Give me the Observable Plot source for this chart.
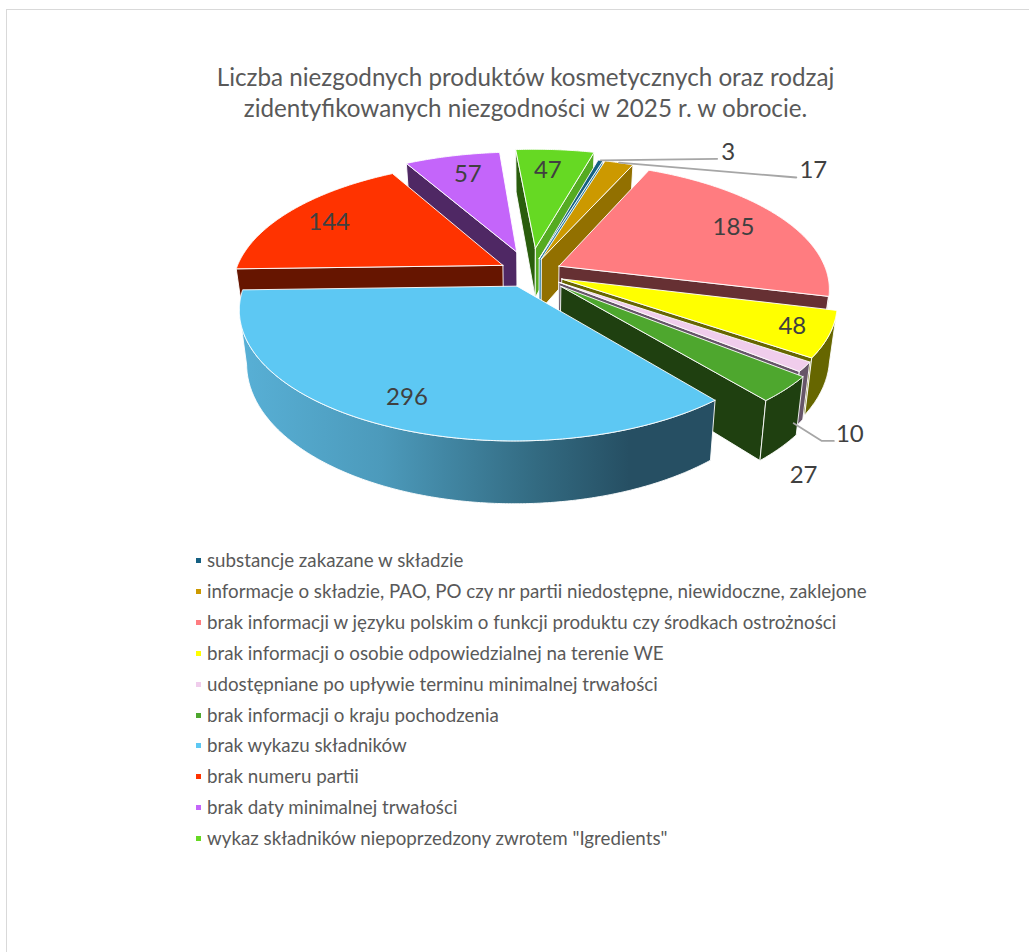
<!DOCTYPE html>
<html lang="pl">
<head>
<meta charset="utf-8">
<script src="https://cdn.jsdelivr.net/npm/d3@7"></script>
<script src="https://cdn.jsdelivr.net/npm/@observablehq/plot@0.6"></script>
<style>
html,body{margin:0;padding:0;background:#fff;overflow:hidden;}
#page{position:relative;width:1029px;height:952px;font-family:Lato,"Open Sans",sans-serif;overflow:hidden;}
#frame{position:absolute;left:6px;top:9px;width:1100px;height:1100px;border-left:1.5px solid #d9d9d9;border-top:1.5px solid #d9d9d9;}
#title{position:absolute;left:0;top:61px;width:1051px;text-align:center;color:#595959;font-size:24.2px;line-height:31px;}
#chart{position:absolute;left:0;top:128px;}
#chart svg{display:block;}
#legend{position:absolute;left:195px;top:544px;color:#595959;font-size:18.75px;}
#legend div{position:absolute;left:0;white-space:nowrap;height:31px;line-height:31px;}
#legend i{position:absolute;left:1px;top:14px;width:5px;height:5px;}
#legend span{position:absolute;left:12px;top:0;}
</style>
</head>
<body>
<div id="page">
<div id="frame"></div>
<div id="title">Liczba niezgodnych produktów kosmetycznych oraz rodzaj<br>zidentyfikowanych niezgodności w 2025 r. w obrocie.</div>
<div id="chart"></div>
<div id="legend"></div>
</div>
<script>
const categories = ["substancje zakazane w składzie","informacje o składzie, PAO, PO czy nr partii niedostępne, niewidoczne, zaklejone","brak informacji w języku polskim o funkcji produktu czy środkach ostrożności","brak informacji o osobie odpowiedzialnej na terenie WE","udostępniane po upływie terminu minimalnej trwałości","brak informacji o kraju pochodzenia","brak wykazu składników","brak numeru partii","brak daty minimalnej trwałości","wykaz składników niepoprzedzony zwrotem \"Igredients\""];
const values = [3,17,185,48,10,27,296,144,57,47];
const topColors = ["#156082","#cc9900","#ff7c80","#ffff00","#f0cdec","#4ea72e","#5dc8f3","#ff3300","#c465fa","#66d923"];
const wallColors = ["#0d3a4e","#927000","#663033","#666600","#665568","#1f4010","url(#blueWall)","#661500","#4f2864","#2a5d0d"];
const rightWallColors = ["#2f7fa5","#927000","#663033","#666600","#665568","#1f4010","#264f63","#661500","#4f2864","#55ab22"];
const explode = [32,32,32,34,35,42,32,32,48,55];
const labelRadius = [1.35,1.46,0.78,0.87,1.32,1.36,0.83,0.80,0.78,0.76];
const labelTurn = [23,34,0,0,12,15,0,-1,1,-1];

// projection of the tilted, exploded pie
const R = 268, K = 0.46, P = 0.17, H = 51, TAPER = 0.025, START = 15.4, CAM = R / P;
const rad = d => d * Math.PI / 180;
function project(X, Y, Z = 0) {
  const s = 1 / (1 + P * Y / R);
  return {x: X * s * (1 - TAPER * Z / H), y: Y * K * s - Z * s};
}
const total = d3.sum(values);
const cum = [0, ...d3.cumsum(values)];
const slices = values.map((v, i) => {
  const a0 = START + cum[i] / total * 360, a1 = START + cum[i + 1] / total * 360, mid = (a0 + a1) / 2;
  return {i, v, a0, a1, mid, ox: Math.sin(rad(mid)) * explode[i], oy: Math.cos(rad(mid)) * explode[i]};
});
const rim = (s, a, r = 1) => [s.ox + R * r * Math.sin(rad(a)), s.oy + R * r * Math.cos(rad(a))];
const polys = [];
let nid = 0;
function addPoly(pts, fill) {
  const id = nid++;
  [...pts, pts[0]].forEach(p => polys.push({id, x: p.x, y: p.y, fill}));
}
function arcAngles(s, step = 0.5) {
  const out = [];
  for (let a = s.a0; a < s.a1; a += step) out.push(a);
  out.push(s.a1);
  return out;
}
const order = [...slices].sort((a, b) => Math.cos(rad(b.mid)) - Math.cos(rad(a.mid)));
for (const s of order) {
  const radial = (a) => {
    const [X, Y] = rim(s, a);
    addPoly([project(s.ox, s.oy), project(X, Y), project(X, Y, H), project(s.ox, s.oy, H)],
      a === s.a0 ? wallColors[s.i] === "url(#blueWall)" ? rightWallColors[s.i] : wallColors[s.i] : rightWallColors[s.i]);
  };
  const toCamX = -s.ox, toCamY = -CAM - s.oy;
  const n0 = [-Math.cos(rad(s.a0)), Math.sin(rad(s.a0))];
  const n1 = [Math.cos(rad(s.a1)), -Math.sin(rad(s.a1))];
  if (n0[0] * toCamX + n0[1] * toCamY > 0) radial(s.a0);
  if (n1[0] * toCamX + n1[1] * toCamY > 0) radial(s.a1);
  const front = arcAngles(s).filter(a => {
    const [X, Y] = rim(s, a);
    return Math.sin(rad(a)) * -X + Math.cos(rad(a)) * (-CAM - Y) > 0;
  });
  if (front.length > 1) {
    const upper = front.map(a => project(...rim(s, a)));
    const lower = front.map(a => project(...rim(s, a), H)).reverse();
    addPoly([...upper, ...lower], wallColors[s.i]);
  }
  addPoly([project(s.ox, s.oy), ...arcAngles(s).map(a => project(...rim(s, a)))], topColors[s.i]);
}

// labels sit on each slice's bisector
const labels = slices.map(s => {
  const a = s.mid + labelTurn[s.i];
  const p = project(...rim(s, a, labelRadius[s.i]));
  return {x: p.x, y: p.y, text: String(s.v)};
});
// leader lines: rim of a slice to its outside label
const leaderRows = [];
function leader(i, z, turn, endDx, endDy, elbowDx, elbowDy) {
  const s = slices[i];
  const st = project(...rim(s, s.mid + turn), z);
  const l = labels[i];
  const pts = [st];
  if (elbowDx != null) pts.push({x: l.x + elbowDx, y: l.y + elbowDy});
  pts.push({x: l.x + endDx, y: l.y + endDy});
  pts.forEach(p => leaderRows.push({i, x: p.x, y: p.y}));
}
leader(0, 0, 0, -11, -6);
leader(1, 0, 0, -17, -7, -29, -6);
leader(4, H * 0.9, 2, -16, -7, -28, -7);

const blueDefs = () => {
  const defs = d3.create("svg:defs");
  const g = defs.append("linearGradient").attr("id", "blueWall").attr("x1", 0).attr("x2", 1).attr("y1", 0).attr("y2", 0);
  [[0, "#58b0d6"], [0.3, "#4c9abb"], [0.62, "#336b82"], [0.82, "#264f63"], [1, "#264f63"]]
    .forEach(([o, c]) => g.append("stop").attr("offset", o).attr("stop-color", c));
  return defs.node();
};

const cx = 530, cy = 272, top0 = 128, W = 1029, Hsvg = 392;
const plot = Plot.plot({
  width: W, height: Hsvg, margin: 0,
  x: {domain: [-cx, W - cx], range: [0, W], axis: null},
  y: {domain: [cy - top0 - Hsvg, cy - top0], range: [Hsvg, 0], axis: null},
  color: {type: "identity"},
  marks: [
    blueDefs,
    Plot.line(polys, {x: "x", y: "y", z: "id", fill: "fill", stroke: "#ffffff", strokeWidth: 1, strokeOpacity: 0.9, strokeLinejoin: "round"}),
    Plot.line(leaderRows, {x: "x", y: "y", z: "i", stroke: "#a6a6a6", strokeWidth: 1.8}),
    Plot.text(labels, {x: "x", y: "y", text: "text", fontSize: 24, fill: "#404040", fontFamily: "Lato"})
  ]
});
document.getElementById("chart").appendChild(plot);

const legend = d3.select("#legend");
categories.forEach((c, i) => {
  const row = legend.append("div").style("top", (i * 30.9) + "px");
  row.append("i").style("background", topColors[i]);
  row.append("span").text(c);
});
</script>
</body>
</html>
